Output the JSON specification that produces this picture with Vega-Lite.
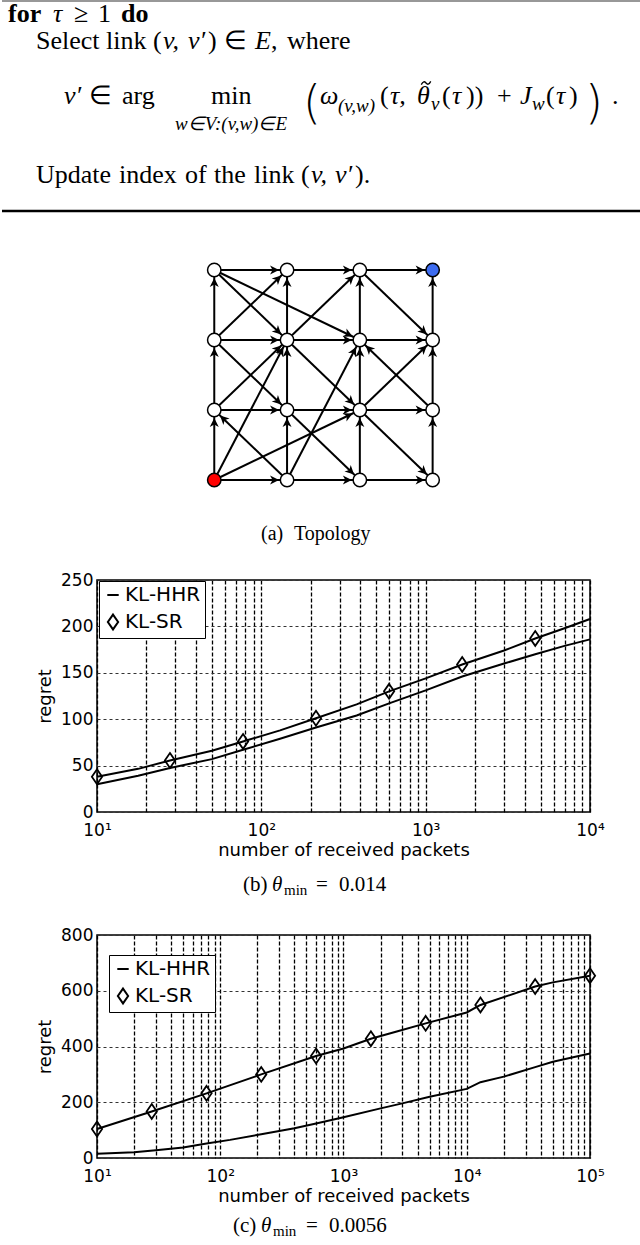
{
"$schema": "https://vega.github.io/schema/vega-lite/v6.json",
"padding": 0,
"spacing": 0,
"bounds": "flush",
"background": "white",
"resolve": {"scale": {"x": "independent", "y": "independent", "shape": "independent", "fill": "independent"}, "legend": {"shape": "independent", "fill": "independent"}},
"config": {
 "view": {"stroke": null},
 "axis": {"labelFont": "DejaVu Sans", "labelFontSize": 17, "labelColor": "black", "titleFont": "DejaVu Sans", "titleFontSize": 18, "titleFontWeight": "normal", "titleColor": "black", "domain": false, "ticks": false},
 "text": {"font": "Liberation Serif", "fontSize": 26, "align": "left", "baseline": "alphabetic", "color": "black"}
},
"datasets": {
 "edges": [
  {"c1":0,"r1":0,"c2":1,"r2":0},{"c1":1,"r1":0,"c2":2,"r2":0},{"c1":2,"r1":0,"c2":3,"r2":0},
  {"c1":0,"r1":1,"c2":1,"r2":1},{"c1":1,"r1":1,"c2":2,"r2":1},{"c1":2,"r1":1,"c2":3,"r2":1},
  {"c1":0,"r1":2,"c2":1,"r2":2},{"c1":1,"r1":2,"c2":2,"r2":2},{"c1":2,"r1":2,"c2":3,"r2":2},
  {"c1":0,"r1":3,"c2":1,"r2":3},{"c1":1,"r1":3,"c2":2,"r2":3},{"c1":2,"r1":3,"c2":3,"r2":3},
  {"c1":0,"r1":0,"c2":0,"r2":1},{"c1":0,"r1":1,"c2":0,"r2":2},{"c1":0,"r1":2,"c2":0,"r2":3},
  {"c1":1,"r1":0,"c2":1,"r2":1},{"c1":1,"r1":1,"c2":1,"r2":2},{"c1":1,"r1":2,"c2":1,"r2":3},
  {"c1":2,"r1":0,"c2":2,"r2":1},{"c1":2,"r1":1,"c2":2,"r2":2},{"c1":2,"r1":2,"c2":2,"r2":3},
  {"c1":3,"r1":0,"c2":3,"r2":1},{"c1":3,"r1":1,"c2":3,"r2":2},{"c1":3,"r1":2,"c2":3,"r2":3},
  {"c1":0,"r1":3,"c2":1,"r2":2},{"c1":0,"r1":3,"c2":2,"r2":2},{"c1":0,"r1":2,"c2":1,"r2":3},
  {"c1":0,"r1":2,"c2":1,"r2":1},{"c1":0,"r1":1,"c2":1,"r2":2},{"c1":0,"r1":0,"c2":1,"r2":2},
  {"c1":0,"r1":0,"c2":2,"r2":1},{"c1":1,"r1":0,"c2":0,"r2":1},{"c1":1,"r1":0,"c2":2,"r2":2},
  {"c1":1,"r1":2,"c2":2,"r2":3},{"c1":1,"r1":2,"c2":2,"r2":1},{"c1":1,"r1":1,"c2":2,"r2":0},
  {"c1":2,"r1":3,"c2":3,"r2":2},{"c1":2,"r1":1,"c2":3,"r2":2},{"c1":2,"r1":1,"c2":3,"r2":0},
  {"c1":3,"r1":1,"c2":2,"r2":2}
 ],
 "nodes": [
  {"c":0,"r":0,"role":"source"},{"c":1,"r":0,"role":"relay"},{"c":2,"r":0,"role":"relay"},{"c":3,"r":0,"role":"relay"},
  {"c":0,"r":1,"role":"relay"},{"c":1,"r":1,"role":"relay"},{"c":2,"r":1,"role":"relay"},{"c":3,"r":1,"role":"relay"},
  {"c":0,"r":2,"role":"relay"},{"c":1,"r":2,"role":"relay"},{"c":2,"r":2,"role":"relay"},{"c":3,"r":2,"role":"relay"},
  {"c":0,"r":3,"role":"relay"},{"c":1,"r":3,"role":"relay"},{"c":2,"r":3,"role":"relay"},{"c":3,"r":3,"role":"destination"}
 ],
 "lineB": [
  {"n":10,"regret":38,"series":"KL-SR"},{"n":17.8,"regret":46.5,"series":"KL-SR"},{"n":27.8,"regret":55.5,"series":"KL-SR"},{"n":50,"regret":66,"series":"KL-SR"},{"n":77.4,"regret":76,"series":"KL-SR"},{"n":130,"regret":88,"series":"KL-SR"},{"n":215,"regret":101,"series":"KL-SR"},{"n":380,"regret":116,"series":"KL-SR"},{"n":599,"regret":130,"series":"KL-SR"},{"n":1000,"regret":144,"series":"KL-SR"},{"n":1668,"regret":159,"series":"KL-SR"},{"n":3000,"regret":174,"series":"KL-SR"},{"n":4642,"regret":187,"series":"KL-SR"},{"n":7000,"regret":198,"series":"KL-SR"},{"n":10000,"regret":208,"series":"KL-SR"},
  {"n":10,"regret":30,"series":"KL-HHR"},{"n":17.8,"regret":39,"series":"KL-HHR"},{"n":27.8,"regret":47.5,"series":"KL-HHR"},{"n":50,"regret":57,"series":"KL-HHR"},{"n":77.4,"regret":67,"series":"KL-HHR"},{"n":130,"regret":79,"series":"KL-HHR"},{"n":215,"regret":91,"series":"KL-HHR"},{"n":380,"regret":104,"series":"KL-HHR"},{"n":599,"regret":117,"series":"KL-HHR"},{"n":1000,"regret":131,"series":"KL-HHR"},{"n":1668,"regret":146,"series":"KL-HHR"},{"n":3000,"regret":160,"series":"KL-HHR"},{"n":4642,"regret":170,"series":"KL-HHR"},{"n":7000,"regret":179,"series":"KL-HHR"},{"n":10000,"regret":186,"series":"KL-HHR"}
 ],
 "markB": [
  {"n":10,"regret":38,"series":"KL-SR"},{"n":27.8,"regret":55.5,"series":"KL-SR"},{"n":77.4,"regret":76,"series":"KL-SR"},{"n":215,"regret":101,"series":"KL-SR"},{"n":599,"regret":130,"series":"KL-SR"},{"n":1668,"regret":159,"series":"KL-SR"},{"n":4642,"regret":187,"series":"KL-SR"}
 ],
 "lineC": [
  {"n":10,"regret":104,"series":"KL-SR"},{"n":27.8,"regret":167,"series":"KL-SR"},{"n":77.4,"regret":232,"series":"KL-SR"},{"n":215,"regret":300,"series":"KL-SR"},{"n":599,"regret":366,"series":"KL-SR"},{"n":1000,"regret":393,"series":"KL-SR"},{"n":1668,"regret":428,"series":"KL-SR"},{"n":2750,"regret":455,"series":"KL-SR"},{"n":4642,"regret":483,"series":"KL-SR"},{"n":10000,"regret":522,"series":"KL-SR"},{"n":12915,"regret":549,"series":"KL-SR"},{"n":35900,"regret":615,"series":"KL-SR"},{"n":50000,"regret":630,"series":"KL-SR"},{"n":100000,"regret":654,"series":"KL-SR"},
  {"n":10,"regret":15,"series":"KL-HHR"},{"n":20,"regret":21,"series":"KL-HHR"},{"n":30,"regret":28,"series":"KL-HHR"},{"n":50,"regret":38,"series":"KL-HHR"},{"n":77.4,"regret":52,"series":"KL-HHR"},{"n":120,"regret":65,"series":"KL-HHR"},{"n":215,"regret":85,"series":"KL-HHR"},{"n":400,"regret":107,"series":"KL-HHR"},{"n":599,"regret":124,"series":"KL-HHR"},{"n":1000,"regret":146,"series":"KL-HHR"},{"n":2000,"regret":178,"series":"KL-HHR"},{"n":3000,"regret":196,"series":"KL-HHR"},{"n":5000,"regret":220,"series":"KL-HHR"},{"n":10000,"regret":248,"series":"KL-HHR"},{"n":12915,"regret":272,"series":"KL-HHR"},{"n":20000,"regret":292,"series":"KL-HHR"},{"n":35900,"regret":326,"series":"KL-HHR"},{"n":50000,"regret":345,"series":"KL-HHR"},{"n":100000,"regret":375,"series":"KL-HHR"}
 ],
 "markC": [
  {"n":10,"regret":104,"series":"KL-SR"},{"n":27.8,"regret":167,"series":"KL-SR"},{"n":77.4,"regret":232,"series":"KL-SR"},{"n":215,"regret":300,"series":"KL-SR"},{"n":599,"regret":366,"series":"KL-SR"},{"n":1668,"regret":428,"series":"KL-SR"},{"n":4642,"regret":483,"series":"KL-SR"},{"n":12915,"regret":549,"series":"KL-SR"},{"n":35900,"regret":615,"series":"KL-SR"},{"n":100000,"regret":654,"series":"KL-SR"}
 ]
},
"vconcat": [
 {
  "width": 493, "height": 250,
  "data": {"values": [{}]},
  "layer": [
   {"mark": {"type": "rule", "color": "#333333", "strokeWidth": 1.2}, "encoding": {"x": {"datum": 1, "scale": {"domain": [96,589], "nice": false, "zero": false}, "axis": null}, "x2": {"datum": 639}, "y": {"datum": 1, "scale": {"domain": [250,0], "nice": false, "zero": false}, "axis": null}}},
   {"mark": {"type": "rule", "color": "black", "strokeWidth": 2.5}, "encoding": {"x": {"datum": 1, "scale": {"domain": [96,589], "nice": false, "zero": false}, "axis": null}, "x2": {"datum": 639}, "y": {"datum": 211, "scale": {"domain": [250,0], "nice": false, "zero": false}, "axis": null}}},
   {"mark": {"type": "point", "shape": "M-1,0.35C-0.6,-0.45,-0.3,-0.35,0,0C0.3,0.35,0.6,0.45,1,-0.35", "size": 90, "filled": false, "color": "black", "strokeWidth": 1.3, "opacity": 1}, "encoding": {"x": {"datum": 425, "scale": {"domain": [96,589], "nice": false, "zero": false}, "axis": null}, "y": {"datum": 83, "scale": {"domain": [250,0], "nice": false, "zero": false}, "axis": null}}},
   {"mark": {"type": "text", "text": "for", "fontWeight": "bold"}, "encoding": {"x": {"datum": 7, "scale": {"domain": [96,589], "nice": false, "zero": false}, "axis": null}, "y": {"datum": 22, "scale": {"domain": [250,0], "nice": false, "zero": false}, "axis": null}}},
   {"mark": {"type": "text", "text": "τ", "fontStyle": "italic"}, "encoding": {"x": {"datum": 52, "scale": {"domain": [96,589], "nice": false, "zero": false}, "axis": null}, "y": {"datum": 22, "scale": {"domain": [250,0], "nice": false, "zero": false}, "axis": null}}},
   {"mark": {"type": "text", "text": "≥"}, "encoding": {"x": {"datum": 73, "scale": {"domain": [96,589], "nice": false, "zero": false}, "axis": null}, "y": {"datum": 22, "scale": {"domain": [250,0], "nice": false, "zero": false}, "axis": null}}},
   {"mark": {"type": "text", "text": "1"}, "encoding": {"x": {"datum": 97, "scale": {"domain": [96,589], "nice": false, "zero": false}, "axis": null}, "y": {"datum": 22, "scale": {"domain": [250,0], "nice": false, "zero": false}, "axis": null}}},
   {"mark": {"type": "text", "text": "do", "fontWeight": "bold"}, "encoding": {"x": {"datum": 120, "scale": {"domain": [96,589], "nice": false, "zero": false}, "axis": null}, "y": {"datum": 22, "scale": {"domain": [250,0], "nice": false, "zero": false}, "axis": null}}},
   {"mark": {"type": "text", "text": "Select link ("}, "encoding": {"x": {"datum": 35, "scale": {"domain": [96,589], "nice": false, "zero": false}, "axis": null}, "y": {"datum": 49, "scale": {"domain": [250,0], "nice": false, "zero": false}, "axis": null}}},
   {"mark": {"type": "text", "text": "v,", "fontStyle": "italic"}, "encoding": {"x": {"datum": 162, "scale": {"domain": [96,589], "nice": false, "zero": false}, "axis": null}, "y": {"datum": 49, "scale": {"domain": [250,0], "nice": false, "zero": false}, "axis": null}}},
   {"mark": {"type": "text", "text": "v′", "fontStyle": "italic"}, "encoding": {"x": {"datum": 187, "scale": {"domain": [96,589], "nice": false, "zero": false}, "axis": null}, "y": {"datum": 49, "scale": {"domain": [250,0], "nice": false, "zero": false}, "axis": null}}},
   {"mark": {"type": "text", "text": ")"}, "encoding": {"x": {"datum": 207, "scale": {"domain": [96,589], "nice": false, "zero": false}, "axis": null}, "y": {"datum": 49, "scale": {"domain": [250,0], "nice": false, "zero": false}, "axis": null}}},
   {"mark": {"type": "text", "text": "∈"}, "encoding": {"x": {"datum": 223, "scale": {"domain": [96,589], "nice": false, "zero": false}, "axis": null}, "y": {"datum": 49, "scale": {"domain": [250,0], "nice": false, "zero": false}, "axis": null}}},
   {"mark": {"type": "text", "text": "E", "fontStyle": "italic"}, "encoding": {"x": {"datum": 254, "scale": {"domain": [96,589], "nice": false, "zero": false}, "axis": null}, "y": {"datum": 49, "scale": {"domain": [250,0], "nice": false, "zero": false}, "axis": null}}},
   {"mark": {"type": "text", "text": ","}, "encoding": {"x": {"datum": 270, "scale": {"domain": [96,589], "nice": false, "zero": false}, "axis": null}, "y": {"datum": 49, "scale": {"domain": [250,0], "nice": false, "zero": false}, "axis": null}}},
   {"mark": {"type": "text", "text": "where"}, "encoding": {"x": {"datum": 286, "scale": {"domain": [96,589], "nice": false, "zero": false}, "axis": null}, "y": {"datum": 49, "scale": {"domain": [250,0], "nice": false, "zero": false}, "axis": null}}},
   {"mark": {"type": "text", "text": "v′", "fontStyle": "italic"}, "encoding": {"x": {"datum": 63, "scale": {"domain": [96,589], "nice": false, "zero": false}, "axis": null}, "y": {"datum": 104, "scale": {"domain": [250,0], "nice": false, "zero": false}, "axis": null}}},
   {"mark": {"type": "text", "text": "∈"}, "encoding": {"x": {"datum": 88, "scale": {"domain": [96,589], "nice": false, "zero": false}, "axis": null}, "y": {"datum": 104, "scale": {"domain": [250,0], "nice": false, "zero": false}, "axis": null}}},
   {"mark": {"type": "text", "text": "arg"}, "encoding": {"x": {"datum": 121, "scale": {"domain": [96,589], "nice": false, "zero": false}, "axis": null}, "y": {"datum": 104, "scale": {"domain": [250,0], "nice": false, "zero": false}, "axis": null}}},
   {"mark": {"type": "text", "text": "min"}, "encoding": {"x": {"datum": 210, "scale": {"domain": [96,589], "nice": false, "zero": false}, "axis": null}, "y": {"datum": 104, "scale": {"domain": [250,0], "nice": false, "zero": false}, "axis": null}}},
   {"mark": {"type": "text", "text": "w∈V:(v,w)∈E", "fontSize": 19, "fontStyle": "italic", "align": "center"}, "encoding": {"x": {"datum": 230, "scale": {"domain": [96,589], "nice": false, "zero": false}, "axis": null}, "y": {"datum": 130, "scale": {"domain": [250,0], "nice": false, "zero": false}, "axis": null}}},
   {"mark": {"type": "text", "text": "(", "font": "DejaVu Sans", "fontSize": 46, "fontWeight": 200}, "encoding": {"x": {"datum": 302, "scale": {"domain": [96,589], "nice": false, "zero": false}, "axis": null}, "y": {"datum": 118, "scale": {"domain": [250,0], "nice": false, "zero": false}, "axis": null}}},
   {"mark": {"type": "text", "text": "ω", "fontStyle": "italic"}, "encoding": {"x": {"datum": 319, "scale": {"domain": [96,589], "nice": false, "zero": false}, "axis": null}, "y": {"datum": 104, "scale": {"domain": [250,0], "nice": false, "zero": false}, "axis": null}}},
   {"mark": {"type": "text", "text": "(v,w)", "fontSize": 19, "fontStyle": "italic"}, "encoding": {"x": {"datum": 337, "scale": {"domain": [96,589], "nice": false, "zero": false}, "axis": null}, "y": {"datum": 112, "scale": {"domain": [250,0], "nice": false, "zero": false}, "axis": null}}},
   {"mark": {"type": "text", "text": "("}, "encoding": {"x": {"datum": 379, "scale": {"domain": [96,589], "nice": false, "zero": false}, "axis": null}, "y": {"datum": 104, "scale": {"domain": [250,0], "nice": false, "zero": false}, "axis": null}}},
   {"mark": {"type": "text", "text": "τ,", "fontStyle": "italic"}, "encoding": {"x": {"datum": 389, "scale": {"domain": [96,589], "nice": false, "zero": false}, "axis": null}, "y": {"datum": 104, "scale": {"domain": [250,0], "nice": false, "zero": false}, "axis": null}}},
   {"mark": {"type": "text", "text": "θ", "fontStyle": "italic"}, "encoding": {"x": {"datum": 416, "scale": {"domain": [96,589], "nice": false, "zero": false}, "axis": null}, "y": {"datum": 104, "scale": {"domain": [250,0], "nice": false, "zero": false}, "axis": null}}},
   {"mark": {"type": "text", "text": "v", "fontSize": 19, "fontStyle": "italic"}, "encoding": {"x": {"datum": 430, "scale": {"domain": [96,589], "nice": false, "zero": false}, "axis": null}, "y": {"datum": 110, "scale": {"domain": [250,0], "nice": false, "zero": false}, "axis": null}}},
   {"mark": {"type": "text", "text": "("}, "encoding": {"x": {"datum": 441, "scale": {"domain": [96,589], "nice": false, "zero": false}, "axis": null}, "y": {"datum": 104, "scale": {"domain": [250,0], "nice": false, "zero": false}, "axis": null}}},
   {"mark": {"type": "text", "text": "τ", "fontStyle": "italic"}, "encoding": {"x": {"datum": 451, "scale": {"domain": [96,589], "nice": false, "zero": false}, "axis": null}, "y": {"datum": 104, "scale": {"domain": [250,0], "nice": false, "zero": false}, "axis": null}}},
   {"mark": {"type": "text", "text": "))"}, "encoding": {"x": {"datum": 465, "scale": {"domain": [96,589], "nice": false, "zero": false}, "axis": null}, "y": {"datum": 104, "scale": {"domain": [250,0], "nice": false, "zero": false}, "axis": null}}},
   {"mark": {"type": "text", "text": "+"}, "encoding": {"x": {"datum": 496, "scale": {"domain": [96,589], "nice": false, "zero": false}, "axis": null}, "y": {"datum": 104, "scale": {"domain": [250,0], "nice": false, "zero": false}, "axis": null}}},
   {"mark": {"type": "text", "text": "J", "fontStyle": "italic"}, "encoding": {"x": {"datum": 519, "scale": {"domain": [96,589], "nice": false, "zero": false}, "axis": null}, "y": {"datum": 104, "scale": {"domain": [250,0], "nice": false, "zero": false}, "axis": null}}},
   {"mark": {"type": "text", "text": "w", "fontSize": 19, "fontStyle": "italic"}, "encoding": {"x": {"datum": 531, "scale": {"domain": [96,589], "nice": false, "zero": false}, "axis": null}, "y": {"datum": 110, "scale": {"domain": [250,0], "nice": false, "zero": false}, "axis": null}}},
   {"mark": {"type": "text", "text": "("}, "encoding": {"x": {"datum": 545, "scale": {"domain": [96,589], "nice": false, "zero": false}, "axis": null}, "y": {"datum": 104, "scale": {"domain": [250,0], "nice": false, "zero": false}, "axis": null}}},
   {"mark": {"type": "text", "text": "τ", "fontStyle": "italic"}, "encoding": {"x": {"datum": 555, "scale": {"domain": [96,589], "nice": false, "zero": false}, "axis": null}, "y": {"datum": 104, "scale": {"domain": [250,0], "nice": false, "zero": false}, "axis": null}}},
   {"mark": {"type": "text", "text": ")"}, "encoding": {"x": {"datum": 568, "scale": {"domain": [96,589], "nice": false, "zero": false}, "axis": null}, "y": {"datum": 104, "scale": {"domain": [250,0], "nice": false, "zero": false}, "axis": null}}},
   {"mark": {"type": "text", "text": ")", "font": "DejaVu Sans", "fontSize": 46, "fontWeight": 200}, "encoding": {"x": {"datum": 584, "scale": {"domain": [96,589], "nice": false, "zero": false}, "axis": null}, "y": {"datum": 118, "scale": {"domain": [250,0], "nice": false, "zero": false}, "axis": null}}},
   {"mark": {"type": "text", "text": "."}, "encoding": {"x": {"datum": 611, "scale": {"domain": [96,589], "nice": false, "zero": false}, "axis": null}, "y": {"datum": 104, "scale": {"domain": [250,0], "nice": false, "zero": false}, "axis": null}}},
   {"mark": {"type": "text", "text": "Update"}, "encoding": {"x": {"datum": 35, "scale": {"domain": [96,589], "nice": false, "zero": false}, "axis": null}, "y": {"datum": 183, "scale": {"domain": [250,0], "nice": false, "zero": false}, "axis": null}}},
   {"mark": {"type": "text", "text": "index"}, "encoding": {"x": {"datum": 118, "scale": {"domain": [96,589], "nice": false, "zero": false}, "axis": null}, "y": {"datum": 183, "scale": {"domain": [250,0], "nice": false, "zero": false}, "axis": null}}},
   {"mark": {"type": "text", "text": "of"}, "encoding": {"x": {"datum": 184, "scale": {"domain": [96,589], "nice": false, "zero": false}, "axis": null}, "y": {"datum": 183, "scale": {"domain": [250,0], "nice": false, "zero": false}, "axis": null}}},
   {"mark": {"type": "text", "text": "the"}, "encoding": {"x": {"datum": 213, "scale": {"domain": [96,589], "nice": false, "zero": false}, "axis": null}, "y": {"datum": 183, "scale": {"domain": [250,0], "nice": false, "zero": false}, "axis": null}}},
   {"mark": {"type": "text", "text": "link ("}, "encoding": {"x": {"datum": 253, "scale": {"domain": [96,589], "nice": false, "zero": false}, "axis": null}, "y": {"datum": 183, "scale": {"domain": [250,0], "nice": false, "zero": false}, "axis": null}}},
   {"mark": {"type": "text", "text": "v,", "fontStyle": "italic"}, "encoding": {"x": {"datum": 310, "scale": {"domain": [96,589], "nice": false, "zero": false}, "axis": null}, "y": {"datum": 183, "scale": {"domain": [250,0], "nice": false, "zero": false}, "axis": null}}},
   {"mark": {"type": "text", "text": "v′", "fontStyle": "italic"}, "encoding": {"x": {"datum": 334, "scale": {"domain": [96,589], "nice": false, "zero": false}, "axis": null}, "y": {"datum": 183, "scale": {"domain": [250,0], "nice": false, "zero": false}, "axis": null}}},
   {"mark": {"type": "text", "text": ")."}, "encoding": {"x": {"datum": 354, "scale": {"domain": [96,589], "nice": false, "zero": false}, "axis": null}, "y": {"datum": 183, "scale": {"domain": [250,0], "nice": false, "zero": false}, "axis": null}}}
  ]
 },
 {
  "width": 493, "height": 250,
  "layer": [
   {"data": {"name": "edges"}, "mark": {"type": "rule", "color": "black", "strokeWidth": 2},
    "encoding": {"x": {"field": "c1", "type": "quantitative", "scale": {"domain": [-1.611, 5.162], "nice": false, "zero": false}, "axis": null}, "y": {"field": "r1", "type": "quantitative", "scale": {"domain": [-0.2857, 3.2857], "nice": false, "zero": false}, "axis": null}, "x2": {"field": "c2"}, "y2": {"field": "r2"}}},
   {"data": {"name": "edges"}, "mark": {"type": "point", "shape": "M-8,0L-17,-4.5L-14.5,0L-17,4.5Z", "size": 4, "filled": true, "color": "black", "opacity": 1, "angle": {"expr": "atan2((datum.r1-datum.r2)*70, (datum.c2-datum.c1)*72.8)*180/PI"}},
    "encoding": {"x": {"field": "c2", "type": "quantitative", "scale": {"domain": [-1.611, 5.162], "nice": false, "zero": false}, "axis": null}, "y": {"field": "r2", "type": "quantitative", "scale": {"domain": [-0.2857, 3.2857], "nice": false, "zero": false}, "axis": null}}},
   {"data": {"name": "nodes"}, "mark": {"type": "point", "shape": "circle", "filled": true, "size": 180, "stroke": "black", "strokeWidth": 1.5, "opacity": 1},
    "encoding": {"x": {"field": "c", "type": "quantitative", "scale": {"domain": [-1.611, 5.162], "nice": false, "zero": false}, "axis": null}, "y": {"field": "r", "type": "quantitative", "scale": {"domain": [-0.2857, 3.2857], "nice": false, "zero": false}, "axis": null}, "fill": {"field": "role", "type": "nominal", "scale": {"domain": ["relay", "source", "destination"], "range": ["white", "#ff0000", "#3d6cf0"]}, "legend": null}}}
  ]
 },
 {
  "width": 493, "height": 80,
  "data": {"values": [{}]},
  "layer": [
   {"mark": {"type": "text", "text": "(a)", "fontSize": 20}, "encoding": {"x": {"datum": 260, "scale": {"domain": [96,589], "nice": false, "zero": false}, "axis": null}, "y": {"datum": 540, "scale": {"domain": [580,500], "nice": false, "zero": false}, "axis": null}}},
   {"mark": {"type": "text", "text": "Topology", "fontSize": 20}, "encoding": {"x": {"datum": 293, "scale": {"domain": [96,589], "nice": false, "zero": false}, "axis": null}, "y": {"datum": 540, "scale": {"domain": [580,500], "nice": false, "zero": false}, "axis": null}}}
  ]
 },
 {
  "width": 493, "height": 232,
  "view": {"stroke": "black", "strokeWidth": 1.5},
  "layer": [
   {"data": {"name": "lineB"}, "mark": {"type": "line", "color": "black", "strokeWidth": 2},
    "encoding": {
     "x": {"field": "n", "type": "quantitative", "scale": {"type": "log", "domain": [10, 10000], "nice": false},
      "axis": {"values": [10,20,30,40,50,60,70,80,90,100,200,300,400,500,600,700,800,900,1000,2000,3000,4000,5000,6000,7000,8000,9000,10000], "labelExpr": "datum.value==10?'10¹':datum.value==100?'10²':datum.value==1000?'10³':datum.value==10000?'10⁴':''", "labelOverlap": false, "labelFlush": false, "labelPadding": 10, "grid": true, "gridColor": "black", "gridDash": [4,2], "gridWidth": 1.3, "gridOpacity": 1, "title": "number of received packets", "titlePadding": 3}},
     "y": {"field": "regret", "type": "quantitative", "scale": {"domain": [0, 250], "nice": false},
      "axis": {"values": [0,50,100,150,200,250], "grid": true, "gridColor": "#333333", "gridDash": [3,3], "gridWidth": 1, "labelPadding": 4, "title": "regret", "titlePadding": 6}},
     "detail": {"field": "series", "type": "nominal"}}},
   {"data": {"name": "markB"}, "mark": {"type": "point", "filled": false, "color": "black", "strokeWidth": 1.8, "size": 130, "opacity": 1},
    "encoding": {
     "x": {"field": "n", "type": "quantitative", "scale": {"type": "log", "domain": [10, 10000], "nice": false}},
     "y": {"field": "regret", "type": "quantitative", "scale": {"domain": [0, 250], "nice": false}},
     "shape": {"field": "series", "type": "nominal", "scale": {"domain": ["KL-HHR", "KL-SR"], "range": ["stroke", "M0,-1.3L0.9,0L0,1.3L-0.9,0Z"]},
      "legend": {"title": null, "orient": "none", "legendX": 2, "legendY": 1, "strokeColor": "black", "fillColor": "white", "padding": 4, "rowPadding": 5, "labelFont": "DejaVu Sans", "labelFontSize": 20, "labelColor": "black", "labelOffset": 2, "symbolSize": 130, "symbolStrokeWidth": 2, "symbolStrokeColor": "black", "symbolFillColor": "white"}}}}
  ]
 },
 {
  "width": 493, "height": 123,
  "data": {"values": [{}]},
  "layer": [
   {"mark": {"type": "text", "text": "(b)", "fontSize": 21}, "encoding": {"x": {"datum": 242, "scale": {"domain": [96,589], "nice": false, "zero": false}, "axis": null}, "y": {"datum": 891, "scale": {"domain": [935,812], "nice": false, "zero": false}, "axis": null}}},
   {"mark": {"type": "text", "text": "θ", "fontSize": 21, "fontStyle": "italic"}, "encoding": {"x": {"datum": 271, "scale": {"domain": [96,589], "nice": false, "zero": false}, "axis": null}, "y": {"datum": 891, "scale": {"domain": [935,812], "nice": false, "zero": false}, "axis": null}}},
   {"mark": {"type": "text", "text": "min", "fontSize": 15}, "encoding": {"x": {"datum": 283, "scale": {"domain": [96,589], "nice": false, "zero": false}, "axis": null}, "y": {"datum": 895, "scale": {"domain": [935,812], "nice": false, "zero": false}, "axis": null}}},
   {"mark": {"type": "text", "text": "=", "fontSize": 21}, "encoding": {"x": {"datum": 315, "scale": {"domain": [96,589], "nice": false, "zero": false}, "axis": null}, "y": {"datum": 891, "scale": {"domain": [935,812], "nice": false, "zero": false}, "axis": null}}},
   {"mark": {"type": "text", "text": "0.014", "fontSize": 21}, "encoding": {"x": {"datum": 338, "scale": {"domain": [96,589], "nice": false, "zero": false}, "axis": null}, "y": {"datum": 891, "scale": {"domain": [935,812], "nice": false, "zero": false}, "axis": null}}}
  ]
 },
 {
  "width": 493, "height": 223,
  "view": {"stroke": "black", "strokeWidth": 1.5},
  "layer": [
   {"data": {"name": "lineC"}, "mark": {"type": "line", "color": "black", "strokeWidth": 2},
    "encoding": {
     "x": {"field": "n", "type": "quantitative", "scale": {"type": "log", "domain": [10, 100000], "nice": false},
      "axis": {"values": [10,20,30,40,50,60,70,80,90,100,200,300,400,500,600,700,800,900,1000,2000,3000,4000,5000,6000,7000,8000,9000,10000,20000,30000,40000,50000,60000,70000,80000,90000,100000], "labelExpr": "datum.value==10?'10¹':datum.value==100?'10²':datum.value==1000?'10³':datum.value==10000?'10⁴':datum.value==100000?'10⁵':''", "labelOverlap": false, "labelFlush": false, "labelPadding": 10, "grid": true, "gridColor": "black", "gridDash": [4,2], "gridWidth": 1.3, "gridOpacity": 1, "title": "number of received packets", "titlePadding": 3}},
     "y": {"field": "regret", "type": "quantitative", "scale": {"domain": [0, 800], "nice": false},
      "axis": {"values": [0,200,400,600,800], "grid": true, "gridColor": "#333333", "gridDash": [3,3], "gridWidth": 1, "labelPadding": 4, "title": "regret", "titlePadding": 6}},
     "detail": {"field": "series", "type": "nominal"}}},
   {"data": {"name": "markC"}, "mark": {"type": "point", "filled": false, "color": "black", "strokeWidth": 1.8, "size": 130, "opacity": 1},
    "encoding": {
     "x": {"field": "n", "type": "quantitative", "scale": {"type": "log", "domain": [10, 100000], "nice": false}},
     "y": {"field": "regret", "type": "quantitative", "scale": {"domain": [0, 800], "nice": false}},
     "shape": {"field": "series", "type": "nominal", "scale": {"domain": ["KL-HHR", "KL-SR"], "range": ["stroke", "M0,-1.3L0.9,0L0,1.3L-0.9,0Z"]},
      "legend": {"title": null, "orient": "none", "legendX": 12, "legendY": 20, "strokeColor": "black", "fillColor": "white", "padding": 4, "rowPadding": 5, "labelFont": "DejaVu Sans", "labelFontSize": 20, "labelColor": "black", "labelOffset": 2, "symbolSize": 130, "symbolStrokeWidth": 2, "symbolStrokeColor": "black", "symbolFillColor": "white"}}}}
  ]
 },
 {
  "width": 493, "height": 87,
  "data": {"values": [{}]},
  "layer": [
   {"mark": {"type": "text", "text": "(c)", "fontSize": 21}, "encoding": {"x": {"datum": 232, "scale": {"domain": [96,589], "nice": false, "zero": false}, "axis": null}, "y": {"datum": 1232, "scale": {"domain": [1245,1158], "nice": false, "zero": false}, "axis": null}}},
   {"mark": {"type": "text", "text": "θ", "fontSize": 21, "fontStyle": "italic"}, "encoding": {"x": {"datum": 260, "scale": {"domain": [96,589], "nice": false, "zero": false}, "axis": null}, "y": {"datum": 1232, "scale": {"domain": [1245,1158], "nice": false, "zero": false}, "axis": null}}},
   {"mark": {"type": "text", "text": "min", "fontSize": 15}, "encoding": {"x": {"datum": 272, "scale": {"domain": [96,589], "nice": false, "zero": false}, "axis": null}, "y": {"datum": 1236, "scale": {"domain": [1245,1158], "nice": false, "zero": false}, "axis": null}}},
   {"mark": {"type": "text", "text": "=", "fontSize": 21}, "encoding": {"x": {"datum": 305, "scale": {"domain": [96,589], "nice": false, "zero": false}, "axis": null}, "y": {"datum": 1232, "scale": {"domain": [1245,1158], "nice": false, "zero": false}, "axis": null}}},
   {"mark": {"type": "text", "text": "0.0056", "fontSize": 21}, "encoding": {"x": {"datum": 328, "scale": {"domain": [96,589], "nice": false, "zero": false}, "axis": null}, "y": {"datum": 1232, "scale": {"domain": [1245,1158], "nice": false, "zero": false}, "axis": null}}}
  ]
 }
]
}
